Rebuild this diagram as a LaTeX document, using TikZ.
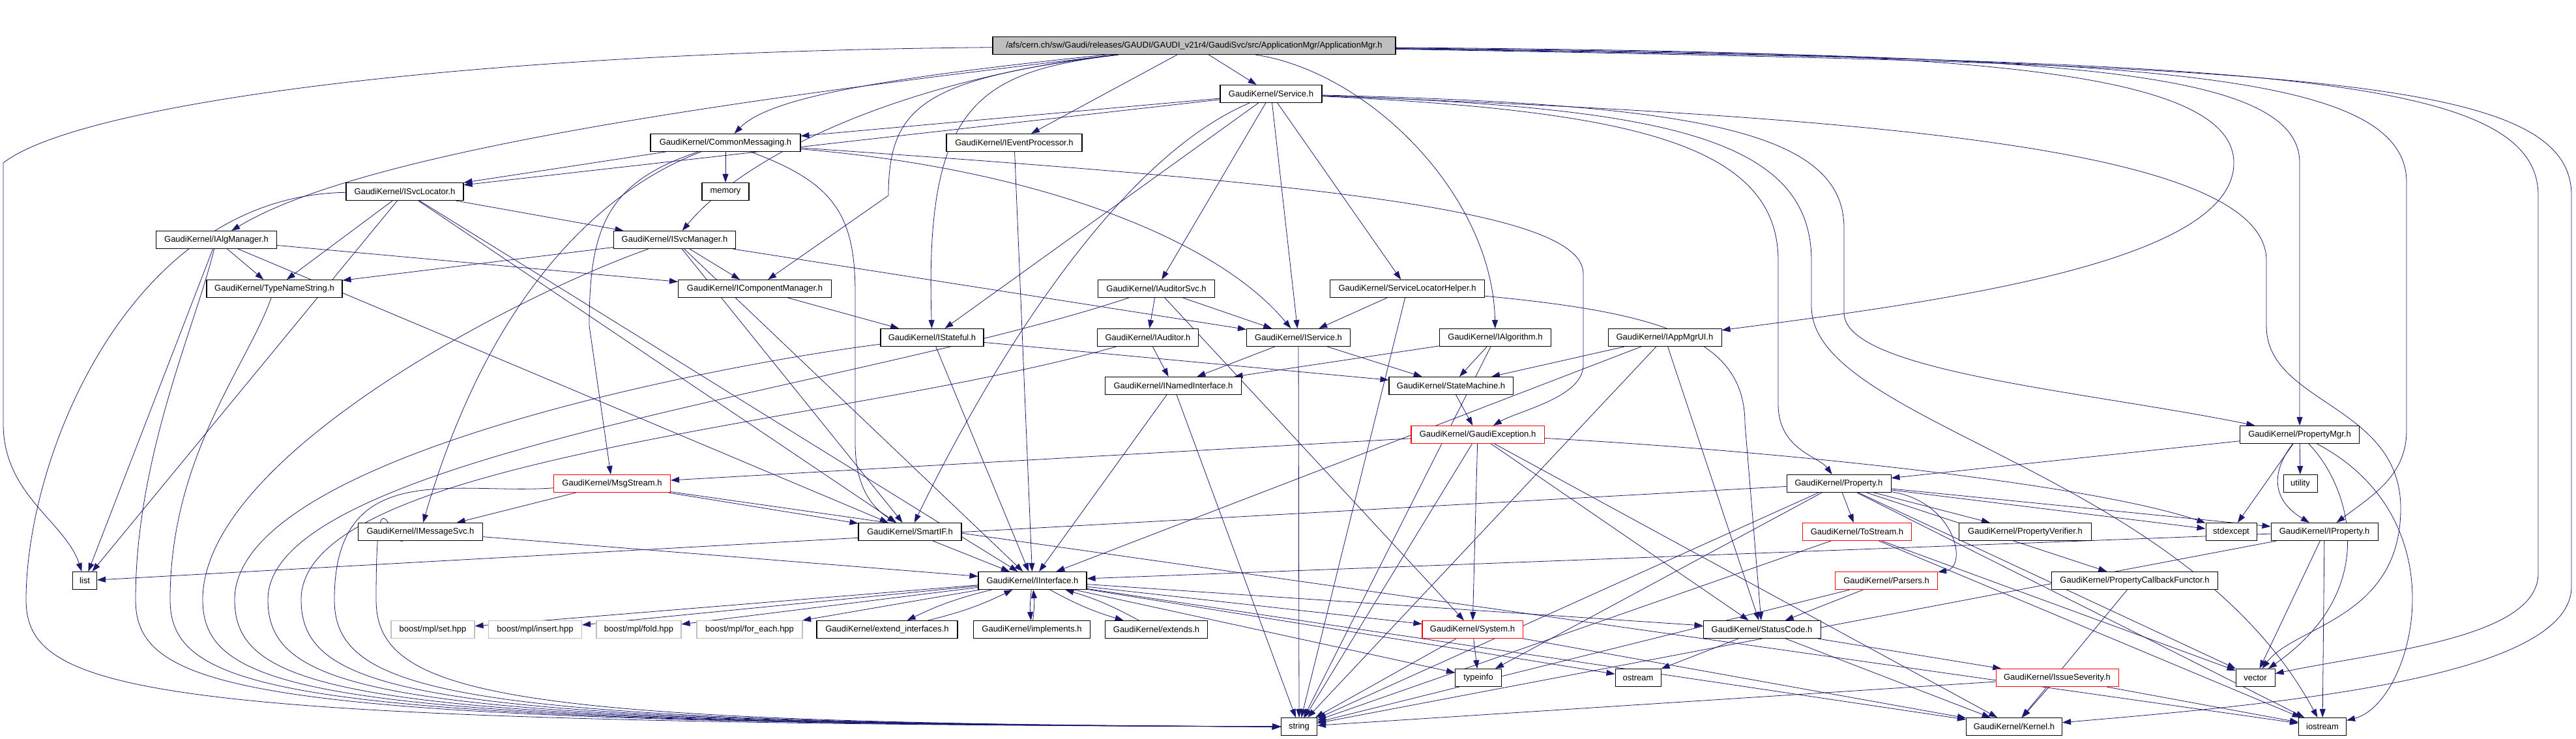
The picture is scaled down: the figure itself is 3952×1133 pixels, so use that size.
\documentclass[tikz,border=0pt]{standalone}
\usepackage{fontspec}
\setmainfont{Liberation Sans}
\usetikzlibrary{arrows.meta,backgrounds}
\definecolor{edgeblue}{HTML}{191970}
\definecolor{rootgray}{HTML}{BFBFBF}
\definecolor{extgray}{HTML}{BFBFBF}

\begin{document}
\begin{tikzpicture}[x=0.02cm, y=-0.02cm,
    hdr/.style={draw=black, fill=white, line width=0.6pt, minimum height=0.54cm,
                inner sep=1pt, font=\fontsize{7.4}{8.4}\selectfont},
    bw/.style={minimum width=#1*0.02cm},
    redhdr/.style={hdr, draw=red},
    sysinc/.style={hdr, draw=extgray},
    dep/.style={draw=edgeblue, line width=0.45pt, -{Triangle[length=0.26cm,width=0.18cm]}}]
    \useasboundingbox (0,0) rectangle (3952,1133);

    % Root file
    \node[hdr, fill=rootgray, bw=618] (root) at (1832,70)
        {/afs/cern.ch/sw/Gaudi/releases/GAUDI/GAUDI\_v21r4/GaudiSvc/src/ApplicationMgr/ApplicationMgr.h};

    % Headers, row by row
    \node[hdr, bw=156] (service)    at (1950,144) {GaudiKernel/Service.h};
    \node[hdr, bw=230] (cmsg)       at (1113,219) {GaudiKernel/CommonMessaging.h};
    \node[hdr, bw=208] (evproc)     at (1556,219) {GaudiKernel/IEventProcessor.h};
    \node[hdr, bw=180] (svclocator) at (621,294)  {GaudiKernel/ISvcLocator.h};
    \node[hdr, bw=72]  (memory)     at (1113,294) {memory};
    \node[hdr, bw=185] (algmgr)     at (332,368)  {GaudiKernel/IAlgManager.h};
    \node[hdr, bw=187] (svcmgr)     at (1035,368) {GaudiKernel/ISvcManager.h};
    \node[hdr, bw=208] (typename)   at (421,443)  {GaudiKernel/TypeNameString.h};
    \node[hdr, bw=235] (compmgr)    at (1158,443) {GaudiKernel/IComponentManager.h};
    \node[hdr, bw=179] (auditorsvc) at (1774,443) {GaudiKernel/IAuditorSvc.h};
    \node[hdr, bw=237] (slh)        at (2159,443) {GaudiKernel/ServiceLocatorHelper.h};
    \node[hdr, bw=158] (stateful)   at (1430,518) {GaudiKernel/IStateful.h};
    \node[hdr, bw=155] (auditor)    at (1761,518) {GaudiKernel/IAuditor.h};
    \node[hdr, bw=159] (iservice)   at (1992,518) {GaudiKernel/IService.h};
    \node[hdr, bw=171] (algorithm)  at (2294,518) {GaudiKernel/IAlgorithm.h};
    \node[hdr, bw=174] (appmgrui)   at (2554,518) {GaudiKernel/IAppMgrUI.h};
    \node[hdr, bw=209] (namedif)    at (1800,592) {GaudiKernel/INamedInterface.h};
    \node[hdr, bw=190] (statemachine) at (2226,592) {GaudiKernel/StateMachine.h};
    \node[redhdr, bw=204] (gaudiexc) at (2267,667) {GaudiKernel/GaudiException.h};
    \node[hdr, bw=183] (propmgr)    at (3528,667) {GaudiKernel/PropertyMgr.h};
    \node[redhdr, bw=179] (msgstream) at (939,742) {GaudiKernel/MsgStream.h};
    \node[hdr, bw=160] (property)   at (2821,742) {GaudiKernel/Property.h};
    \node[hdr, bw=52]  (utility)    at (3529,742) {utility};
    \node[hdr, bw=191] (msgsvc)     at (645,816)  {GaudiKernel/IMessageSvc.h};
    \node[hdr, bw=158] (smartif)    at (1396,816) {GaudiKernel/SmartIF.h};
    \node[redhdr, bw=167] (tostream) at (2849,816) {GaudiKernel/ToStream.h};
    \node[hdr, bw=203] (verifier)   at (3107,816) {GaudiKernel/PropertyVerifier.h};
    \node[hdr, bw=78]  (stdexcept)  at (3423,816) {stdexcept};
    \node[hdr, bw=164] (iproperty)  at (3566,816) {GaudiKernel/IProperty.h};
    \node[hdr, bw=37]  (list)       at (130,891)  {list};
    \node[hdr, bw=166] (iinterface) at (1584,891) {GaudiKernel/IInterface.h};
    \node[redhdr, bw=157] (parsers) at (2894,891) {GaudiKernel/Parsers.h};
    \node[hdr, bw=255] (callback)   at (3275,891) {GaudiKernel/PropertyCallbackFunctor.h};
    \node[sysinc, bw=128] (mplset)     at (664,966)  {boost/mpl/set.hpp};
    \node[sysinc, bw=143] (mplinsert)  at (821,966)  {boost/mpl/insert.hpp};
    \node[sysinc, bw=130] (mplfold)    at (980,966)  {boost/mpl/fold.hpp};
    \node[sysinc, bw=162] (mplforeach) at (1150,966) {boost/mpl/for\_each.hpp};
    \node[hdr, bw=216] (extendif)   at (1361,966) {GaudiKernel/extend\_interfaces.h};
    \node[hdr, bw=179] (implements) at (1583,966) {GaudiKernel/implements.h};
    \node[hdr, bw=157] (extends)    at (1774,966) {GaudiKernel/extends.h};
    \node[redhdr, bw=154] (system)  at (2259,966) {GaudiKernel/System.h};
    \node[hdr, bw=180] (statuscode) at (2703,966) {GaudiKernel/StatusCode.h};
    \node[hdr, bw=71]  (typeinfo)   at (2268,1040) {typeinfo};
    \node[hdr, bw=70]  (ostream)    at (2513,1040) {ostream};
    \node[redhdr, bw=188] (severity) at (3156,1040) {GaudiKernel/IssueSeverity.h};
    \node[hdr, bw=60]  (vector)     at (3460,1040) {vector};
    \node[hdr, bw=55]  (string)     at (1993,1115) {string};
    \node[hdr, bw=147] (kernel)     at (3090,1115) {GaudiKernel/Kernel.h};
    \node[hdr, bw=73]  (iostream)   at (3563,1115) {iostream};

    \begin{scope}[on background layer]
    % Root includes
    \foreach \t in {evproc, service} \draw[dep] (root) -- (\t);
    \draw[dep] (root) .. controls (700,80) and (120,160) .. (5,250) -- (5,650)
        .. controls (5,760) and (100,800) .. (list);
    \draw[dep] (root) .. controls (1150,150) and (560,230) .. (algmgr);
    \draw[dep] (root) .. controls (1350,120) and (1180,150) .. (cmsg);
    \draw[dep] (root) .. controls (1400,120) and (1150,230) .. (svcmgr);
    \draw[dep] (root) .. controls (1420,120) and (1363,160) .. (1363,300) -- (compmgr);
    \draw[dep] (root) .. controls (1500,110) and (1418,160) .. (stateful);
    \draw[dep] (root) .. controls (2100,110) and (2290,300) .. (algorithm);
    \draw[dep] (root) .. controls (2900,80) and (3427,90) .. (3427,250)
        .. controls (3427,400) and (3000,460) .. (appmgrui);
    \draw[dep] (root) .. controls (3100,85) and (3528,95) .. (3528,250) -- (propmgr);
    \draw[dep] (root) .. controls (3250,90) and (3692,100) .. (3692,280) -- (3692,660)
        .. controls (3692,730) and (3640,760) .. (iproperty);
    \draw[dep] (root) .. controls (3450,95) and (3894,110) .. (3894,300) -- (3894,880)
        .. controls (3894,980) and (3650,1000) .. (vector);
    \draw[dep] (root) .. controls (3550,100) and (3945,120) .. (3945,300) -- (3945,900)
        .. controls (3945,1040) and (3500,1080) .. (kernel);

    % Service.h
    \foreach \t in {svclocator, cmsg, stateful, auditorsvc, iservice, slh} \draw[dep] (service) -- (\t);
    \draw[dep] (service) .. controls (1700,250) and (1500,600) .. (smartif);
    \draw[dep] (service) .. controls (2500,170) and (2728,220) .. (2728,400) -- (2728,620)
        .. controls (2728,690) and (2790,700) .. (property);
    \draw[dep] (service) .. controls (2600,160) and (2829,200) .. (2829,350) -- (2829,480)
        .. controls (2829,570) and (3200,600) .. (propmgr);
    \draw[dep] (service) .. controls (2550,165) and (2779,210) .. (2779,400) -- (2779,470)
        .. controls (2779,650) and (3350,720) .. (iostream);
    \draw[dep] (service) .. controls (2900,180) and (3477,230) .. (3477,400) -- (3477,500)
        .. controls (3477,620) and (3683,620) .. (3683,780)
        .. controls (3683,950) and (3520,960) .. (vector);

    % CommonMessaging.h
    \foreach \t in {svclocator, memory} \draw[dep] (cmsg) -- (\t);
    \draw[dep] (cmsg) .. controls (950,280) and (760,420) .. (msgsvc);
    \draw[dep] (cmsg) .. controls (930,280) and (904,350) .. (904,500) -- (msgstream);
    \draw[dep] (cmsg) .. controls (1280,280) and (1312,330) .. (1312,450) -- (1312,680)
        .. controls (1312,750) and (1340,780) .. (smartif);
    \draw[dep] (cmsg) .. controls (1600,260) and (1870,370) .. (iservice);
    \draw[dep] (cmsg) .. controls (2000,280) and (2429,320) .. (2429,420) -- (2429,560)
        .. controls (2429,610) and (2330,630) .. (gaudiexc);

    % Interfaces of the service layer
    \foreach \t in {svcmgr, typename, list, smartif, iinterface} \draw[dep] (svclocator) -- (\t);
    \foreach \t in {typename, compmgr, list, smartif} \draw[dep] (algmgr) -- (\t);
    \foreach \t in {typename, compmgr, iservice, smartif, iinterface} \draw[dep] (svcmgr) -- (\t);
    \draw[dep] (compmgr) -- (stateful);
    \draw[dep] (evproc) -- (iinterface);
    \foreach \t in {auditor, iservice, system} \draw[dep] (auditorsvc) -- (\t);
    \foreach \t in {iservice, string} \draw[dep] (slh) -- (\t);
    \draw[dep] (slh) .. controls (2550,480) and (2677,520) .. (2677,650) -- (statuscode);
    \foreach \t in {statemachine, iinterface} \draw[dep] (stateful) -- (\t);
    \draw[dep] (auditor) -- (namedif);
    \foreach \t in {namedif, statemachine, string} \draw[dep] (iservice) -- (\t);
    \foreach \t in {statemachine, namedif, string} \draw[dep] (algorithm) -- (\t);
    \foreach \t in {statemachine, iinterface, statuscode, string} \draw[dep] (appmgrui) -- (\t);
    \foreach \t in {iinterface, string} \draw[dep] (namedif) -- (\t);
    \draw[dep] (statemachine) -- (gaudiexc);
    \foreach \t in {msgstream, system, statuscode, kernel, string} \draw[dep] (gaudiexc) -- (\t);
    \draw[dep] (gaudiexc) .. controls (2700,690) and (3200,740) .. (stdexcept);
    \foreach \t in {msgsvc, smartif, iostream} \draw[dep] (msgstream) -- (\t);
    \draw[dep] (msgsvc) -- (iinterface);
    \draw[dep] (smartif) -- (iinterface);

    % Long way round to string
    \foreach \s/\ax/\ay/\bx/\x in {svclocator/200/300/40/40, algmgr/300/500/208/208,
                                   typename/380/560/261/261, svcmgr/800/450/311/311,
                                   stateful/1100/560/360/360, auditorsvc/1300/600/411/411,
                                   auditor/1300/650/462/462, msgstream/700/760/513/513,
                                   msgsvc/600/840/577/577} {
        \draw[dep] (\s) .. controls (\ax,\ay) and (\bx,700) .. (\x,920)
            .. controls (\x,1070) and (\x+200,1110) .. (string.west);
    }

    % IInterface.h
    \foreach \t in {mplset, mplinsert, mplfold, mplforeach, system, statuscode, kernel, ostream, typeinfo}
        \draw[dep] (iinterface) -- (\t);
    \foreach \t in {extendif, implements, extends} {
        \draw[dep] (iinterface) to[bend right=6] (\t);
        \draw[dep] (\t) to[bend right=6] (iinterface);
    }
    \foreach \t in {typeinfo, string, kernel} \draw[dep] (system) -- (\t);
    \foreach \t in {ostream, severity, kernel} \draw[dep] (statuscode) -- (\t);
    \foreach \t in {kernel, iostream, string} \draw[dep] (severity) -- (\t);

    % Properties
    \foreach \t in {verifier, callback, tostream, iproperty, stdexcept, vector, typeinfo, string, list, iostream}
        \draw[dep] (property) -- (\t);
    \draw[dep] (property) .. controls (3000,770) and (3020,870) .. (parsers);
    \foreach \t in {property, utility, stdexcept} \draw[dep] (propmgr) -- (\t);
    \draw[dep] (propmgr) .. controls (3480,730) and (3490,770) .. (iproperty);
    \draw[dep] (propmgr) .. controls (3600,740) and (3660,900) .. (vector);
    \draw[dep] (propmgr) .. controls (3780,800) and (3700,1080) .. (iostream);
    \foreach \t in {string, iostream, vector} \draw[dep] (tostream) -- (\t);
    \foreach \t in {statuscode, string} \draw[dep] (parsers) -- (\t);
    \draw[dep] (callback) -- (kernel);
    \foreach \t in {iinterface, string, vector, iostream} \draw[dep] (iproperty) -- (\t);
    \end{scope}
\end{tikzpicture}
\end{document}
